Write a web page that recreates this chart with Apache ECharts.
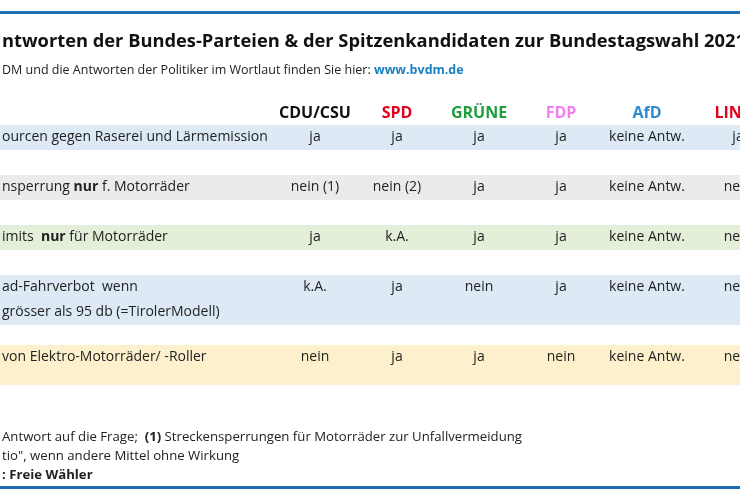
<!DOCTYPE html>
<html><head><meta charset="utf-8">
<script src="https://cdn.jsdelivr.net/npm/echarts@6/dist/echarts.min.js"></script>
<style>html,body{margin:0;padding:0;background:#fff}#c{width:740px;height:500px}</style>
</head><body><div id="c"></div>
<script>
const parties = ['CDU/CSU','SPD','GRÜNE','FDP','AfD','LINKE'];
const partyColors = ['#111111','#e3001b','#1f9e3c','#f27ef0','#2a8ccf','#e3001b'];
const questions = [
  ['{n|ourcen gegen Raserei und Lärmemission}'],
  ['{n|nsperrung }{b|nur}{n| f. Motorräder}'],
  ['{n|imits  }{b|nur}{n| für Motorräder}'],
  ['{n|ad-Fahrverbot  wenn}','{n|grösser als 95 db (=TirolerModell)}'],
  ['{n|von Elektro-Motorräder/ -Roller}']
];
const answers = [
  ['ja','ja','ja','ja','keine Antw.','ja'],
  ['nein (1)','nein (2)','ja','ja','keine Antw.','nein'],
  ['ja','k.A.','ja','ja','keine Antw.','nein'],
  ['k.A.','ja','nein','ja','keine Antw.','nein'],
  ['nein','ja','ja','nein','keine Antw.','nein']
];
const rowColors = ['#dde9f5','#ebebeb','#e3efd9','#dde9f5','#fdf1cd'];
const footnotes = [
  '{n|Antwort auf die Frage;  }{b|(1)}{n| Streckensperrungen für Motorräder zur Unfallvermeidung}',
  '{n|tio", wenn andere Mittel ohne Wirkung}',
  '{b|: Freie Wähler}'
];
const title = 'ntworten der Bundes-Parteien & der Spitzenkandidaten zur Bundestagswahl 2021';

const F = "'Open Sans',sans-serif";
const rowTop = [125,175,225,275,345];
const rowH = [25,25,25,50,40];
const colX = [315,397,479,561,647,738];
const rich = {n:{fontFamily:F,fontSize:14,fill:'#222'}, b:{fontFamily:F,fontSize:14,fontWeight:'bold',fill:'#222'}};
const g = [];
g.push({type:'rect',shape:{x:0,y:11,width:740,height:3},style:{fill:'#1f6fb5'}});
g.push({type:'rect',shape:{x:0,y:486,width:740,height:3},style:{fill:'#1f6fb5'}});
g.push({type:'text',x:2,y:42,style:{text:title,font:"bold 18.3px "+F,fill:'#111',verticalAlign:'middle'}});
g.push({type:'text',x:2,y:70,style:{text:'{n|DM und die Antworten der Politiker im Wortlaut finden Sie hier: }{l|www.bvdm.de}',verticalAlign:'middle',
  rich:{n:{fontFamily:F,fontSize:12.5,fill:'#222'},l:{fontFamily:F,fontSize:12.5,fontWeight:'bold',fill:'#1a7fc1'}}}});
parties.forEach((p,i)=>g.push({type:'text',x:colX[i],y:113,style:{text:p,font:"bold 16px "+F,fill:partyColors[i],align:'center',verticalAlign:'middle'}}));
questions.forEach((q,r)=>{
  g.push({type:'rect',shape:{x:0,y:rowTop[r],width:740,height:rowH[r]},style:{fill:rowColors[r]}});
  q.forEach((line,k)=>g.push({type:'text',x:2,y:rowTop[r]+12+k*25,style:{text:line,rich,verticalAlign:'middle'}}));
  answers[r].forEach((a,c)=>g.push({type:'text',x:colX[c],y:rowTop[r]+12,style:{text:a,font:"14px "+F,fill:'#222',align:'center',verticalAlign:'middle'}}));
});
footnotes.forEach((t,k)=>g.push({type:'text',x:2,y:437+k*19,style:{text:t,verticalAlign:'middle',
  rich:{n:{fontFamily:F,fontSize:13.2,fill:'#222'},b:{fontFamily:F,fontSize:13.2,fontWeight:'bold',fill:'#222'}}}}));
const chart = echarts.init(document.getElementById('c'));
chart.setOption({animation:false,graphic:g});
</script></body></html>
